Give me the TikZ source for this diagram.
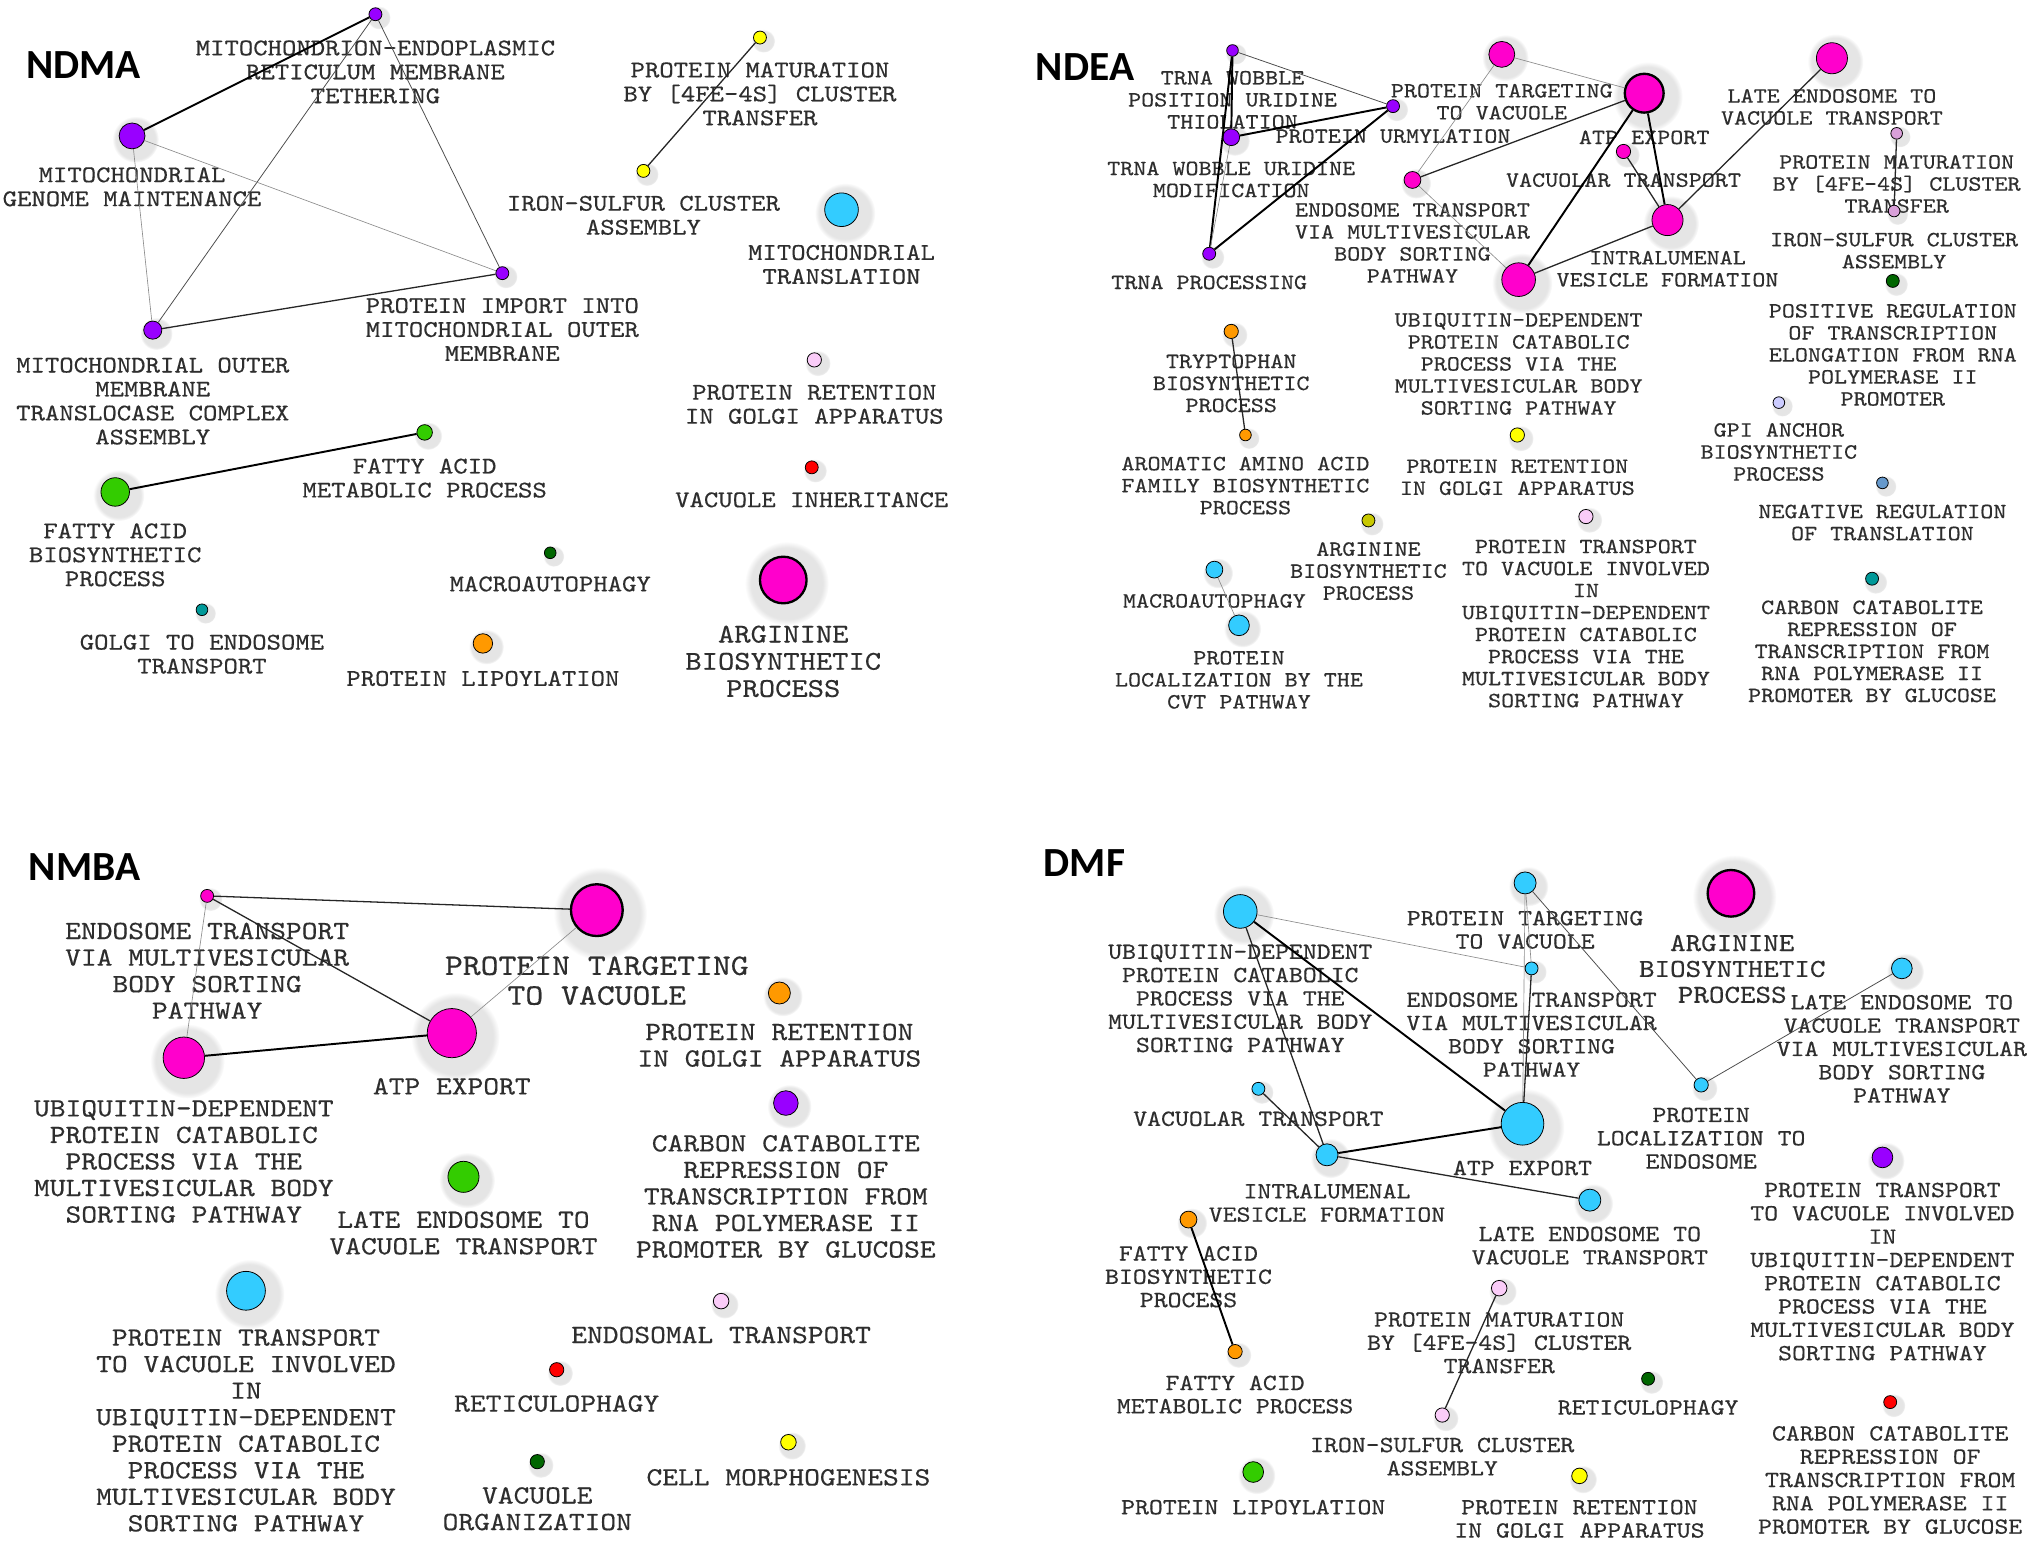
\documentclass[tikz,border=0pt]{standalone}
\usepackage{fontspec}
\usepackage{tikz}
\usetikzlibrary{shadows}
\newfontfamily\monof[Extension=.otf,FakeStretch=1.143,FakeBold=0.4]{lmmono10-regular}
\newfontfamily\headf{Carlito}
\definecolor{txt}{HTML}{2E2E2E}
\definecolor{gopurple}{HTML}{9900FF}
\definecolor{gomagenta}{HTML}{FF00CC}
\definecolor{goblue}{HTML}{33CCFF}
\definecolor{goyellow}{HTML}{FFFF00}
\definecolor{gopink}{HTML}{FACCF8}
\definecolor{gored}{HTML}{FF0000}
\definecolor{goorange}{HTML}{FF9900}
\definecolor{gogreen}{HTML}{33CC00}
\definecolor{godkgreen}{HTML}{006600}
\definecolor{goteal}{HTML}{009999}
\definecolor{goplum}{HTML}{D9A0D9}
\definecolor{goolive}{HTML}{C8C800}
\definecolor{golavender}{HTML}{CCCCFF}
\definecolor{gosteel}{HTML}{6699CC}

\begin{document}
\begin{tikzpicture}[x=1pt,y=-1pt,
    go/.style={circle,draw=black,line width=0.6pt,inner sep=0pt,fill=#1,
      circular drop shadow={shadow xshift=1.5pt,shadow yshift=-1.5pt,shadow scale=1.8,opacity=0.2}},
    big/.style={line width=1.8pt},
    title/.style={font=\headf\bfseries\fontsize{32}{32}\selectfont,anchor=west,inner sep=0pt},
    lbA/.style={font=\monof\fontsize{18.5}{18.5}\selectfont,text=txt,align=center,anchor=north,inner sep=0pt,yshift=6pt},
    lbB/.style={font=\monof\fontsize{16.8}{17}\selectfont,text=txt,align=center,anchor=north,inner sep=0pt,yshift=5.4pt},
    lbC/.style={font=\monof\fontsize{20.3}{20.5}\selectfont,text=txt,align=center,anchor=north,inner sep=0pt,yshift=6.5pt},
    lbD/.style={font=\monof\fontsize{17.9}{18}\selectfont,text=txt,align=center,anchor=north,inner sep=0pt,yshift=5.7pt},
    e1/.style={draw=black!45,line width=0.5pt},
    e2/.style={draw=black!70,line width=0.6pt},
    e3/.style={draw=black!85,line width=1pt},
    e4/.style={draw=black,line width=1.5pt}]

\fill[white] (0,0) rectangle (1568,1190);
\useasboundingbox (0,0) rectangle (1568,1190);

% NDMA
\node[title] (a-head) at (20,50) {NDMA};
\node[go=gopurple,minimum size=10] (a-tether) at (290,11) {};
\node[lbA] (a-tether-t) at (290,37) {MITOCHONDRION-ENDOPLASMIC\\RETICULUM MEMBRANE\\TETHERING};
\node[go=gopurple,minimum size=20] (a-genome) at (102,105) {};
\node[lbA] (a-genome-t) at (102,135) {MITOCHONDRIAL\\GENOME MAINTENANCE};
\node[go=gopurple,minimum size=10] (a-import) at (388,211) {};
\node[lbA] (a-import-t) at (388,236) {PROTEIN IMPORT INTO\\MITOCHONDRIAL OUTER\\MEMBRANE};
\node[go=gopurple,minimum size=14] (a-tom) at (118,255) {};
\node[lbA] (a-tom-t) at (118,282) {MITOCHONDRIAL OUTER\\MEMBRANE\\TRANSLOCASE COMPLEX\\ASSEMBLY};
\node[go=goyellow,minimum size=10] (a-matur) at (587,29) {};
\node[lbA] (a-matur-t) at (587,54) {PROTEIN MATURATION\\BY [4FE-4S] CLUSTER\\TRANSFER};
\node[go=goyellow,minimum size=10] (a-fes) at (497,132) {};
\node[lbA] (a-fes-t) at (497,157) {IRON-SULFUR CLUSTER\\ASSEMBLY};
\node[go=goblue,minimum size=26] (a-mtrans) at (650,162) {};
\node[lbA] (a-mtrans-t) at (650,195) {MITOCHONDRIAL\\TRANSLATION};
\node[go=gopink,minimum size=11] (a-golgi) at (629,278) {};
\node[lbA] (a-golgi-t) at (629,303) {PROTEIN RETENTION\\IN GOLGI APPARATUS};
\node[go=gored,minimum size=10] (a-vacinh) at (627,361) {};
\node[lbA] (a-vacinh-t) at (627,386) {VACUOLE INHERITANCE};
\node[go=gomagenta,big,minimum size=36] (a-arg) at (605,448) {};
\node[lbA,font=\monof\fontsize{21}{21}\selectfont] (a-arg-t) at (605,489) {ARGININE\\BIOSYNTHETIC\\PROCESS};
\node[go=gogreen,minimum size=12] (a-famet) at (328,334) {};
\node[lbA] (a-famet-t) at (328,360) {FATTY ACID\\METABOLIC PROCESS};
\node[go=gogreen,minimum size=22] (a-fabio) at (89,380) {};
\node[lbA] (a-fabio-t) at (89,410) {FATTY ACID\\BIOSYNTHETIC\\PROCESS};
\node[go=godkgreen,minimum size=9] (a-macro) at (425,427) {};
\node[lbA] (a-macro-t) at (425,451) {MACROAUTOPHAGY};
\node[go=goteal,minimum size=9] (a-gte) at (156,471) {};
\node[lbA] (a-gte-t) at (156,496) {GOLGI TO ENDOSOME\\TRANSPORT};
\node[go=goorange,minimum size=15] (a-lipo) at (373,497) {};
\node[lbA] (a-lipo-t) at (373,524) {PROTEIN LIPOYLATION};

\draw[e4] (a-tether) -- (a-genome);
\draw[e2] (a-tether) -- (a-tom);
\draw[e2] (a-tether) -- (a-import);
\draw[e1] (a-genome) -- (a-import);
\draw[e1] (a-genome) -- (a-tom);
\draw[e3] (a-tom) -- (a-import);
\draw[e3] (a-matur) -- (a-fes);
\draw[e4] (a-fabio) -- (a-famet);

% NDEA
\node[title] (b-head) at (800,52) {NDEA};
\node[go=gopurple,minimum size=9] (b-thiol) at (952,39) {};
\node[lbB] (b-thiol-t) at (952,60) {TRNA WOBBLE\\POSITION URIDINE\\THIOLATION};
\node[go=gopurple,minimum size=10] (b-urm) at (1076,82) {};
\node[lbB] (b-urm-t) at (1076,105) {PROTEIN URMYLATION};
\node[go=gopurple,minimum size=13] (b-modif) at (951,106) {};
\node[lbB] (b-modif-t) at (951,130) {TRNA WOBBLE URIDINE\\MODIFICATION};
\node[go=gopurple,minimum size=10] (b-proc) at (934,196) {};
\node[lbB] (b-proc-t) at (934,218) {TRNA PROCESSING};
\node[go=gomagenta,minimum size=20] (b-target) at (1160,42) {};
\node[lbB] (b-target-t) at (1160,70) {PROTEIN TARGETING\\TO VACUOLE};
\node[go=gomagenta,big,minimum size=30] (b-atp) at (1270,72) {};
\node[lbB] (b-atp-t) at (1270,106) {ATP EXPORT};
\node[go=gomagenta,minimum size=13] (b-endo) at (1091,139) {};
\node[lbB] (b-endo-t) at (1091,162) {ENDOSOME TRANSPORT\\VIA MULTIVESICULAR\\BODY SORTING\\PATHWAY};
\node[go=gomagenta,minimum size=11] (b-vac) at (1254,117) {};
\node[lbB] (b-vac-t) at (1254,139) {VACUOLAR TRANSPORT};
\node[go=gomagenta,minimum size=24] (b-ilv) at (1288,170) {};
\node[lbB] (b-ilv-t) at (1288,199) {INTRALUMENAL\\VESICLE FORMATION};
\node[go=gomagenta,minimum size=26] (b-ubq) at (1173,216) {};
\node[lbB] (b-ubq-t) at (1173,247) {UBIQUITIN-DEPENDENT\\PROTEIN CATABOLIC\\PROCESS VIA THE\\MULTIVESICULAR BODY\\SORTING PATHWAY};
\node[go=gomagenta,minimum size=24] (b-late) at (1415,45) {};
\node[lbB] (b-late-t) at (1415,74) {LATE ENDOSOME TO\\VACUOLE TRANSPORT};
\node[go=goplum,minimum size=9] (b-matur) at (1465,103) {};
\node[lbB] (b-matur-t) at (1465,125) {PROTEIN MATURATION\\BY [4FE-4S] CLUSTER\\TRANSFER};
\node[go=goplum,minimum size=9] (b-fes) at (1463,163) {};
\node[lbB] (b-fes-t) at (1463,185) {IRON-SULFUR CLUSTER\\ASSEMBLY};
\node[go=godkgreen,minimum size=10] (b-posreg) at (1462,217) {};
\node[lbB] (b-posreg-t) at (1462,240) {POSITIVE REGULATION\\OF TRANSCRIPTION\\ELONGATION FROM RNA\\POLYMERASE II\\PROMOTER};
\node[go=golavender,minimum size=9] (b-gpi) at (1374,311) {};
\node[lbB] (b-gpi-t) at (1374,332) {GPI ANCHOR\\BIOSYNTHETIC\\PROCESS};
\node[go=gosteel,minimum size=9] (b-negreg) at (1454,373) {};
\node[lbB] (b-negreg-t) at (1454,395) {NEGATIVE REGULATION\\OF TRANSLATION};
\node[go=goteal,minimum size=10] (b-ccr) at (1446,447) {};
\node[lbB] (b-ccr-t) at (1446,469) {CARBON CATABOLITE\\REPRESSION OF\\TRANSCRIPTION FROM\\RNA POLYMERASE II\\PROMOTER BY GLUCOSE};
\node[go=goorange,minimum size=11] (b-trp) at (951,256) {};
\node[lbB] (b-trp-t) at (951,279) {TRYPTOPHAN\\BIOSYNTHETIC\\PROCESS};
\node[go=goorange,minimum size=9] (b-arom) at (962,336) {};
\node[lbB] (b-arom-t) at (962,358) {AROMATIC AMINO ACID\\FAMILY BIOSYNTHETIC\\PROCESS};
\node[go=goyellow,minimum size=11] (b-golgi) at (1172,336) {};
\node[lbB] (b-golgi-t) at (1172,360) {PROTEIN RETENTION\\IN GOLGI APPARATUS};
\node[go=goolive,minimum size=10] (b-arg) at (1057,402) {};
\node[lbB] (b-arg-t) at (1057,424) {ARGININE\\BIOSYNTHETIC\\PROCESS};
\node[go=gopink,minimum size=11] (b-ptv) at (1225,399) {};
\node[lbB] (b-ptv-t) at (1225,422) {PROTEIN TRANSPORT\\TO VACUOLE INVOLVED\\IN\\UBIQUITIN-DEPENDENT\\PROTEIN CATABOLIC\\PROCESS VIA THE\\MULTIVESICULAR BODY\\SORTING PATHWAY};
\node[go=goblue,minimum size=13] (b-macro) at (938,440) {};
\node[lbB] (b-macro-t) at (938,464) {MACROAUTOPHAGY};
\node[go=goblue,minimum size=16] (b-cvt) at (957,483) {};
\node[lbB] (b-cvt-t) at (957,508) {PROTEIN\\LOCALIZATION BY THE\\CVT PATHWAY};

\draw[e2] (b-thiol) -- (b-urm);
\draw[e4] (b-thiol) -- (b-modif);
\draw[e4] (b-thiol) -- (b-proc);
\draw[e1] (b-modif) -- (b-proc);
\draw[e4] (b-modif) -- (b-urm);
\draw[e4] (b-proc) -- (b-urm);
\draw[e1] (b-target) -- (b-atp);
\draw[e1] (b-target) -- (b-endo);
\draw[e3] (b-atp) -- (b-endo);
\draw[e4] (b-atp) -- (b-ubq);
\draw[e4] (b-atp) -- (b-ilv);
\draw[e3] (b-vac) -- (b-ilv);
\draw[e3] (b-ilv) -- (b-ubq);
\draw[e1] (b-endo) -- (b-ubq);
\draw[e3] (b-ilv) -- (b-late);
\draw[e3] (b-matur) -- (b-fes);
\draw[e3] (b-trp) -- (b-arom);
\draw[e1] (b-macro) -- (b-cvt);

% NMBA
\node[title] (c-head) at (22,670) {NMBA};
\node[go=gomagenta,minimum size=10] (c-endo) at (160,692) {};
\node[lbC] (c-endo-t) at (160,719) {ENDOSOME TRANSPORT\\VIA MULTIVESICULAR\\BODY SORTING\\PATHWAY};
\node[go=gomagenta,big,minimum size=40] (c-target) at (461,703) {};
\node[lbC,font=\monof\fontsize{23}{23}\selectfont,yshift=7pt] (c-target-t) at (461,752) {PROTEIN TARGETING\\TO VACUOLE};
\node[go=gomagenta,minimum size=38] (c-atp) at (349,798) {};
\node[lbC] (c-atp-t) at (349,839) {ATP EXPORT};
\node[go=gomagenta,minimum size=32] (c-ubq) at (142,817) {};
\node[lbC] (c-ubq-t) at (142,856) {UBIQUITIN-DEPENDENT\\PROTEIN CATABOLIC\\PROCESS VIA THE\\MULTIVESICULAR BODY\\SORTING PATHWAY};
\node[go=goorange,minimum size=17] (c-golgi) at (602,767) {};
\node[lbC] (c-golgi-t) at (602,797) {PROTEIN RETENTION\\IN GOLGI APPARATUS};
\node[go=gopurple,minimum size=19] (c-ccr) at (607,852) {};
\node[lbC] (c-ccr-t) at (607,883) {CARBON CATABOLITE\\REPRESSION OF\\TRANSCRIPTION FROM\\RNA POLYMERASE II\\PROMOTER BY GLUCOSE};
\node[go=gogreen,minimum size=24] (c-late) at (358,909) {};
\node[lbC] (c-late-t) at (358,942) {LATE ENDOSOME TO\\VACUOLE TRANSPORT};
\node[go=goblue,minimum size=30] (c-ptv) at (190,997) {};
\node[lbC] (c-ptv-t) at (190,1033) {PROTEIN TRANSPORT\\TO VACUOLE INVOLVED\\IN\\UBIQUITIN-DEPENDENT\\PROTEIN CATABOLIC\\PROCESS VIA THE\\MULTIVESICULAR BODY\\SORTING PATHWAY};
\node[go=gopink,minimum size=12] (c-endot) at (557,1005) {};
\node[lbC] (c-endot-t) at (557,1031) {ENDOSOMAL TRANSPORT};
\node[go=gored,minimum size=11] (c-retic) at (430,1058) {};
\node[lbC] (c-retic-t) at (430,1084) {RETICULOPHAGY};
\node[go=godkgreen,minimum size=11] (c-vacorg) at (415,1129) {};
\node[lbC] (c-vacorg-t) at (415,1155) {VACUOLE\\ORGANIZATION};
\node[go=goyellow,minimum size=12] (c-morph) at (609,1114) {};
\node[lbC] (c-morph-t) at (609,1141) {CELL MORPHOGENESIS};

\draw[e3] (c-endo) -- (c-target);
\draw[e3] (c-endo) -- (c-atp);
\draw[e1] (c-endo) -- (c-ubq);
\draw[e4] (c-ubq) -- (c-atp);
\draw[e1] (c-atp) -- (c-target);

% DMF
\node[title] (d-head) at (806,667) {DMF};
\node[go=goblue,minimum size=26] (d-ubq) at (958,704) {};
\node[lbD] (d-ubq-t) at (958,735) {UBIQUITIN-DEPENDENT\\PROTEIN CATABOLIC\\PROCESS VIA THE\\MULTIVESICULAR BODY\\SORTING PATHWAY};
\node[go=goblue,minimum size=17] (d-target) at (1178,682) {};
\node[lbD] (d-target-t) at (1178,709) {PROTEIN TARGETING\\TO VACUOLE};
\node[go=goblue,minimum size=10] (d-endo) at (1183,748) {};
\node[lbD] (d-endo-t) at (1183,772) {ENDOSOME TRANSPORT\\VIA MULTIVESICULAR\\BODY SORTING\\PATHWAY};
\node[go=goblue,minimum size=10] (d-vac) at (972,841) {};
\node[lbD] (d-vac-t) at (972,864) {VACUOLAR TRANSPORT};
\node[go=goblue,minimum size=17] (d-ilv) at (1025,892) {};
\node[lbD] (d-ilv-t) at (1025,920) {INTRALUMENAL\\VESICLE FORMATION};
\node[go=goblue,minimum size=33] (d-atp) at (1176,868) {};
\node[lbD] (d-atp-t) at (1176,902) {ATP EXPORT};
\node[go=goblue,minimum size=17] (d-late) at (1228,927) {};
\node[lbD] (d-late-t) at (1228,953) {LATE ENDOSOME TO\\VACUOLE TRANSPORT};
\node[go=goblue,minimum size=11] (d-loc) at (1314,838) {};
\node[lbD] (d-loc-t) at (1314,861) {PROTEIN\\LOCALIZATION TO\\ENDOSOME};
\node[go=goblue,minimum size=16] (d-mvb) at (1469,748) {};
\node[lbD] (d-mvb-t) at (1469,774) {LATE ENDOSOME TO\\VACUOLE TRANSPORT\\VIA MULTIVESICULAR\\BODY SORTING\\PATHWAY};
\node[go=gomagenta,big,minimum size=36] (d-arg) at (1337,690) {};
\node[lbD,font=\monof\fontsize{20}{20}\selectfont,yshift=6.4pt] (d-arg-t) at (1338,734) {ARGININE\\BIOSYNTHETIC\\PROCESS};
\node[go=gopurple,minimum size=16] (d-ptv) at (1454,894) {};
\node[lbD] (d-ptv-t) at (1454,919) {PROTEIN TRANSPORT\\TO VACUOLE INVOLVED\\IN\\UBIQUITIN-DEPENDENT\\PROTEIN CATABOLIC\\PROCESS VIA THE\\MULTIVESICULAR BODY\\SORTING PATHWAY};
\node[go=goorange,minimum size=13] (d-fabio) at (918,942) {};
\node[lbD] (d-fabio-t) at (918,968) {FATTY ACID\\BIOSYNTHETIC\\PROCESS};
\node[go=goorange,minimum size=11] (d-famet) at (954,1044) {};
\node[lbD] (d-famet-t) at (954,1068) {FATTY ACID\\METABOLIC PROCESS};
\node[go=gopink,minimum size=12] (d-matur) at (1158,995) {};
\node[lbD] (d-matur-t) at (1158,1019) {PROTEIN MATURATION\\BY [4FE-4S] CLUSTER\\TRANSFER};
\node[go=gopink,minimum size=11] (d-fes) at (1114,1093) {};
\node[lbD] (d-fes-t) at (1114,1116) {IRON-SULFUR CLUSTER\\ASSEMBLY};
\node[go=godkgreen,minimum size=10] (d-retic) at (1273,1065) {};
\node[lbD] (d-retic-t) at (1273,1087) {RETICULOPHAGY};
\node[go=gored,minimum size=10] (d-ccr) at (1460,1083) {};
\node[lbD] (d-ccr-t) at (1460,1107) {CARBON CATABOLITE\\REPRESSION OF\\TRANSCRIPTION FROM\\RNA POLYMERASE II\\PROMOTER BY GLUCOSE};
\node[go=gogreen,minimum size=16] (d-lipo) at (968,1137) {};
\node[lbD] (d-lipo-t) at (968,1164) {PROTEIN LIPOYLATION};
\node[go=goyellow,minimum size=12] (d-golgi) at (1220,1140) {};
\node[lbD] (d-golgi-t) at (1220,1164) {PROTEIN RETENTION\\IN GOLGI APPARATUS};

\draw[e1] (d-ubq) -- (d-endo);
\draw[e1] (d-target) -- (d-endo);
\draw[e1] (d-target) -- (d-atp);
\draw[e3] (d-endo) -- (d-atp);
\draw[e2] (d-target) -- (d-loc);
\draw[e2] (d-loc) -- (d-mvb);
\draw[e4] (d-ubq) -- (d-atp);
\draw[e3] (d-ubq) -- (d-ilv);
\draw[e3] (d-vac) -- (d-ilv);
\draw[e4] (d-ilv) -- (d-atp);
\draw[e3] (d-ilv) -- (d-late);
\draw[e4] (d-fabio) -- (d-famet);
\draw[e3] (d-matur) -- (d-fes);
\end{tikzpicture}
\end{document}
